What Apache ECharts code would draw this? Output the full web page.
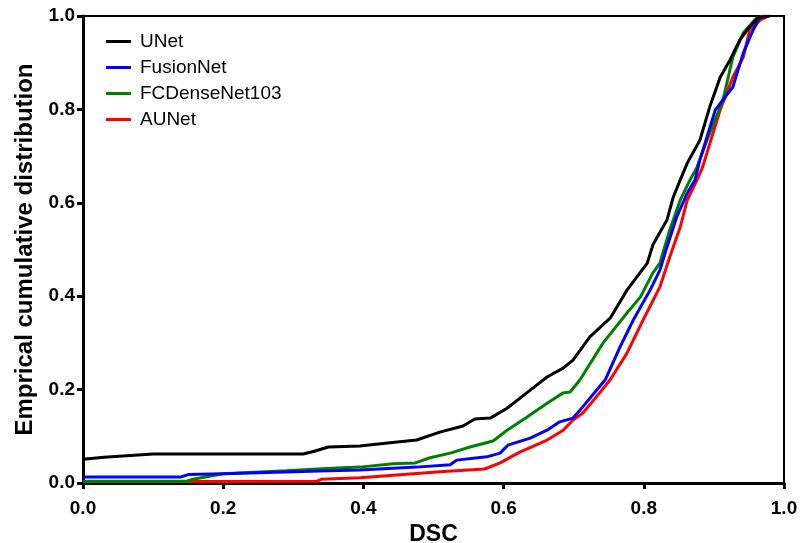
<!DOCTYPE html>
<html>
<head>
<meta charset="utf-8">
<script src="https://cdn.jsdelivr.net/npm/echarts@6/dist/echarts.min.js"></script>
<style>
  html, body { margin: 0; padding: 0; background: #fff; }
  #chart { width: 801px; height: 543px; }
</style>
</head>
<body>
<div id="chart"></div>
<script>
// ECDF curves, [DSC, cumulative fraction]
var unet = [[0,0.051],[0.03,0.055],[0.1,0.062],[0.2,0.062],[0.314,0.062],[0.33,0.068],[0.35,0.077],[0.395,0.079],[0.438,0.086],[0.476,0.092],[0.509,0.109],[0.542,0.122],[0.559,0.137],[0.581,0.139],[0.605,0.16],[0.633,0.193],[0.662,0.227],[0.685,0.246],[0.699,0.263],[0.723,0.313],[0.752,0.353],[0.776,0.413],[0.805,0.471],[0.813,0.51],[0.833,0.563],[0.842,0.612],[0.852,0.649],[0.862,0.685],[0.88,0.734],[0.894,0.805],[0.909,0.869],[0.923,0.906],[0.937,0.949],[0.951,0.977],[0.963,0.996],[0.98,1.0]];
var fusionNet = [[0,0.013],[0.14,0.013],[0.15,0.018],[0.2,0.02],[0.35,0.026],[0.395,0.028],[0.476,0.034],[0.524,0.039],[0.533,0.049],[0.576,0.056],[0.595,0.064],[0.606,0.081],[0.638,0.096],[0.662,0.113],[0.68,0.131],[0.699,0.139],[0.709,0.156],[0.745,0.221],[0.766,0.291],[0.785,0.349],[0.809,0.413],[0.823,0.456],[0.833,0.505],[0.847,0.57],[0.862,0.621],[0.873,0.649],[0.88,0.692],[0.902,0.799],[0.927,0.848],[0.942,0.921],[0.956,0.97],[0.966,0.998],[0.975,1.0]];
var fcDenseNet = [[0,0.004],[0.148,0.004],[0.157,0.008],[0.2,0.02],[0.29,0.026],[0.362,0.032],[0.395,0.034],[0.442,0.041],[0.474,0.043],[0.495,0.054],[0.524,0.064],[0.552,0.077],[0.585,0.09],[0.605,0.113],[0.633,0.141],[0.662,0.171],[0.685,0.193],[0.695,0.195],[0.709,0.221],[0.742,0.3],[0.776,0.364],[0.795,0.398],[0.813,0.45],[0.823,0.471],[0.837,0.542],[0.852,0.606],[0.866,0.649],[0.876,0.677],[0.894,0.749],[0.913,0.82],[0.927,0.912],[0.942,0.964],[0.961,0.996],[0.972,1.0]];
var auNet = [[0,0.003],[0.2,0.003],[0.334,0.004],[0.34,0.008],[0.395,0.011],[0.509,0.024],[0.573,0.03],[0.595,0.043],[0.623,0.066],[0.662,0.092],[0.685,0.113],[0.699,0.135],[0.713,0.15],[0.737,0.193],[0.752,0.221],[0.776,0.278],[0.799,0.349],[0.823,0.42],[0.837,0.484],[0.852,0.548],[0.862,0.606],[0.876,0.649],[0.884,0.677],[0.909,0.799],[0.927,0.869],[0.942,0.912],[0.951,0.97],[0.966,0.991],[0.978,1.0]];

var names = ['UNet', 'FusionNet', 'FCDenseNet103', 'AUNet'];
var colors = ['#000000', '#0000ff', '#008000', '#ff0000'];
var curves = [unet, fusionNet, fcDenseNet, auNet];

var myChart = echarts.init(document.getElementById('chart'));

var font = 'Liberation Sans, Arial, sans-serif';

var series = [];
for (var i = 0; i < names.length; i++) {
    series.push({
        name: names[i],
        type: 'line',
        data: curves[i],
        showSymbol: false,
        color: colors[i],
        lineStyle: { width: 3, color: colors[i] },
        z: 10 - i
    });
}

option = {
    animation: false,
    backgroundColor: '#fff',
    grid: {
        left: 83, right: 17, top: 16, bottom: 60,
        outerBoundsMode: 'none',
        show: true, borderColor: '#000', borderWidth: 2
    },
    legend: {
        orient: 'vertical',
        left: 101, top: 27,
        itemWidth: 25, itemHeight: 3, itemGap: 7,
        icon: 'rect',
        textStyle: { fontFamily: font, fontSize: 19, color: '#000', padding: [0, 0, 0, 4] },
        data: names
    },
    xAxis: {
        type: 'value', min: 0, max: 1, interval: 0.2,
        name: 'DSC', nameLocation: 'middle', nameGap: 36,
        nameTextStyle: { fontFamily: font, fontSize: 23, fontWeight: 'bold', color: '#000' },
        axisLine: { lineStyle: { color: '#000', width: 3 } },
        axisTick: { length: 6, lineStyle: { color: '#000', width: 3 } },
        axisLabel: { fontFamily: font, fontSize: 19, fontWeight: 'bold', color: '#000', margin: 16,
            formatter: function (v) { return v.toFixed(1); } },
        splitLine: { show: false }
    },
    yAxis: {
        type: 'value', min: 0, max: 1, interval: 0.2,
        name: 'Emprical cumulative distribution', nameLocation: 'middle', nameGap: 46,
        nameTextStyle: { fontFamily: font, fontSize: 24, fontWeight: 'bold', color: '#000' },
        axisLine: { lineStyle: { color: '#000', width: 3 } },
        axisTick: { length: 6, lineStyle: { color: '#000', width: 3 } },
        axisLabel: { fontFamily: font, fontSize: 19, fontWeight: 'bold', color: '#000', margin: 8,
            formatter: function (v) { return v.toFixed(1); } },
        splitLine: { show: false }
    },
    series: series
};

myChart.setOption(option);
</script>
</body>
</html>
